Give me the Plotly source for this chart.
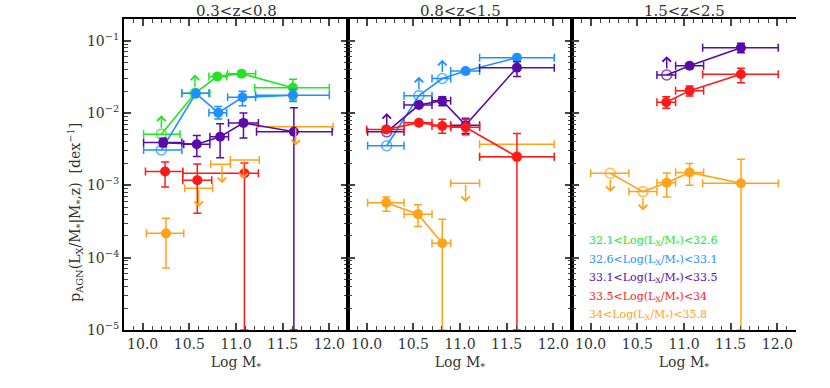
import numpy as np
import plotly.graph_objects as go

# bins in specific accretion rate: legend text and colours
bin_labels = ["32.1&lt;Log(L<sub>X</sub>/M<sub>*</sub>)&lt;32.6",
              "32.6&lt;Log(L<sub>X</sub>/M<sub>*</sub>)&lt;33.1",
              "33.1&lt;Log(L<sub>X</sub>/M<sub>*</sub>)&lt;33.5",
              "33.5&lt;Log(L<sub>X</sub>/M<sub>*</sub>)&lt;34",
              "34&lt;Log(L<sub>X</sub>/M<sub>*</sub>)&lt;35.8"]
bin_colors = ["#22e622", "#1e90ff", "#5a0aa8", "#ff1a1a", "#ffa31a"]
z_titles = ["0.3&lt;z&lt;0.8", "0.8&lt;z&lt;1.5", "1.5&lt;z&lt;2.5"]

# kind: d = detection, o = open (no arrow), L = lower limit, U = upper limit (open),
#       u = upper limit without symbol, b = x-bar only
# ---- 0.3<z<0.8 ----
z1_green_x = [10.20, 10.56, 10.80, 11.06, 11.61]
z1_green_y = [5.1e-3, 1.87e-2, 3.21e-2, 3.50e-2, 2.24e-2]
z1_green_lo = [None, None, 2.9e-2, 3.2e-2, 1.51e-2]
z1_green_hi = [None, None, 3.5e-2, 3.8e-2, 2.92e-2]
z1_green_xlo = [10.01, 10.42, 10.71, 10.91, 11.20]
z1_green_xhi = [10.40, 10.72, 10.90, 11.21, 12.00]
z1_green_kind = "LLddd"

z1_blue_x = [10.20, 10.57, 10.81, 11.07, 11.61]
z1_blue_y = [3.08e-3, 1.87e-2, 1.01e-2, 1.65e-2, 1.76e-2]
z1_blue_lo = [None, 1.7e-2, 8.3e-3, 1.26e-2, 1.44e-2]
z1_blue_hi = [None, 2.05e-2, 1.23e-2, 2.0e-2, 2.13e-2]
z1_blue_xlo = [10.01, 10.42, 10.71, 10.91, 11.21]
z1_blue_xhi = [10.42, 10.71, 10.90, 11.21, 12.00]
z1_blue_kind = "odddd"

z1_purple_x = [10.22, 10.58, 10.83, 11.08, 11.62]
z1_purple_y = [3.9e-3, 3.7e-3, 4.7e-3, 7.3e-3, 5.5e-3]
z1_purple_lo = [3.42e-3, 2.5e-3, 2.4e-3, 4.5e-3, 1e-5]
z1_purple_hi = [4.47e-3, 4.9e-3, 7.1e-3, 1.0e-2, 1.18e-2]
z1_purple_xlo = [10.01, 10.44, 10.72, 10.92, 11.22]
z1_purple_xhi = [10.42, 10.72, 10.92, 11.24, 12.03]
z1_purple_kind = "ddddd"

z1_red_x = [10.24, 10.585, 11.09]
z1_red_y = [1.55e-3, 1.18e-3, 1.47e-3]
z1_red_lo = [9.5e-4, 4.1e-4, 1e-5]
z1_red_hi = [2.1e-3, 1.97e-3, 2.04e-3]
z1_red_xlo = [10.03, 10.43, 10.43]
z1_red_xhi = [10.43, 10.74, 11.24]
z1_red_kind = "ddd"

z1_orange_x = [10.25, 10.60, 10.85, 11.08, 11.64]
z1_orange_y = [2.17e-4, 9.1e-4, 1.95e-3, 2.24e-3, 6.45e-3]
z1_orange_lo = [7.2e-5, None, None, None, None]
z1_orange_hi = [3.5e-4, None, None, None, None]
z1_orange_xlo = [10.04, 10.45, 10.73, 10.94, 11.22]
z1_orange_xhi = [10.44, 10.75, 10.94, 11.25, 12.04]
z1_orange_kind = "duuuu"

# ---- 0.8<z<1.5 ----
z2_blue_x = [10.215, 10.56, 10.81, 11.06, 11.61]
z2_blue_y = [3.53e-3, 1.74e-2, 3.0e-2, 3.81e-2, 5.82e-2]
z2_blue_lo = [None, None, None, 3.5e-2, 5.4e-2]
z2_blue_hi = [None, None, None, 4.1e-2, 6.3e-2]
z2_blue_xlo = [10.01, 10.40, 10.70, 10.90, 11.21]
z2_blue_xhi = [10.40, 10.70, 10.90, 11.21, 12.01]
z2_blue_kind = "oLLdd"

z2_purple_x = [10.215, 10.56, 10.81, 11.06, 11.61]
z2_purple_y = [5.5e-3, 1.29e-2, 1.48e-2, 6.8e-3, 4.24e-2]
z2_purple_lo = [None, 1.2e-2, 1.26e-2, 5.2e-3, 3.2e-2]
z2_purple_hi = [None, 1.4e-2, 1.68e-2, 8.5e-3, 5.1e-2]
z2_purple_xlo = [10.01, 10.40, 10.70, 10.90, 11.21]
z2_purple_xhi = [10.40, 10.70, 10.90, 11.21, 12.01]
z2_purple_kind = "Ldddd"

z2_red_x = [10.21, 10.56, 10.81, 11.06, 11.61]
z2_red_y = [5.94e-3, 7.35e-3, 6.6e-3, 6.34e-3, 2.49e-3]
z2_red_lo = [5.5e-3, 6.8e-3, 5.25e-3, 5.0e-3, 1e-5]
z2_red_hi = [6.4e-3, 7.9e-3, 8.2e-3, 8.2e-3, 5.2e-3]
z2_red_xlo = [10.00, 10.40, 10.70, 10.90, 11.21]
z2_red_xhi = [10.40, 10.70, 10.90, 11.21, 12.01]
z2_red_kind = "ddddd"

z2_orange_x = [10.21, 10.55, 10.81, 11.06, 11.61, 11.61]
z2_orange_y = [5.75e-4, 4.0e-4, 1.58e-4, 1.07e-3, 2.49e-3, 3.7e-3]
z2_orange_lo = [4.4e-4, 2.7e-4, 1e-5, None, None, None]
z2_orange_hi = [6.9e-4, 5.4e-4, 3.4e-4, None, None, None]
z2_orange_xlo = [10.01, 10.40, 10.70, 10.90, 11.21, 11.21]
z2_orange_xhi = [10.40, 10.70, 10.90, 11.21, 12.01, 12.01]
z2_orange_kind = "ddduob"

# ---- 1.5<z<2.5 ----
z3_purple_x = [10.815, 11.06, 11.61]
z3_purple_y = [3.36e-2, 4.5e-2, 8.0e-2]
z3_purple_lo = [None, 4.2e-2, 6.8e-2]
z3_purple_hi = [None, 4.8e-2, 9.2e-2]
z3_purple_xlo = [10.71, 10.91, 11.20]
z3_purple_xhi = [10.91, 11.21, 12.01]
z3_purple_kind = "Ldd"

z3_red_x = [10.81, 11.06, 11.61]
z3_red_y = [1.41e-2, 2.04e-2, 3.43e-2]
z3_red_lo = [1.16e-2, 1.72e-2, 2.63e-2]
z3_red_hi = [1.68e-2, 2.36e-2, 4.17e-2]
z3_red_xlo = [10.71, 10.91, 11.20]
z3_red_xhi = [10.91, 11.21, 12.01]
z3_red_kind = "ddd"

z3_orange_x = [10.21, 10.56, 10.815, 11.06, 11.61]
z3_orange_y = [1.47e-3, 8.2e-4, 1.09e-3, 1.51e-3, 1.07e-3]
z3_orange_lo = [None, None, 6.9e-4, 1.0e-3, 1e-5]
z3_orange_hi = [None, None, 1.48e-3, 2.0e-3, 2.3e-3]
z3_orange_xlo = [10.00, 10.41, 10.71, 10.91, 11.20]
z3_orange_xhi = [10.41, 10.71, 10.91, 11.21, 12.01]
z3_orange_kind = "UUddd"

FONT = "DejaVu Serif"
TXT = "#333"
ARROW_DEX = 0.26

fig = go.Figure()


def add_series(panel, color, x, y, lo, hi, xlo, xhi, kind, join):
    xr, yr = ("x", "y") if panel == 1 else ("x%d" % panel, "y%d" % panel)
    x = np.array(x); y = np.array(y)
    # connecting line
    if join > 1:
        fig.add_trace(go.Scatter(x=x[:join], y=y[:join], mode="lines", xaxis=xr, yaxis=yr,
                                 line=dict(color=color, width=1.6), showlegend=False, hoverinfo="skip"))
    det = [i for i, k in enumerate(kind) if k == "d"]
    lim = [i for i, k in enumerate(kind) if k != "d"]
    ex = dict(type="data", symmetric=False, color=color, thickness=1.5, width=4)
    if det:
        fig.add_trace(go.Scatter(
            x=x[det], y=y[det], mode="markers", xaxis=xr, yaxis=yr, showlegend=False,
            marker=dict(symbol="circle", size=10, color=color),
            error_x=dict(ex, array=[xhi[i] - x[i] for i in det], arrayminus=[x[i] - xlo[i] for i in det]),
            error_y=dict(ex, array=[hi[i] - y[i] for i in det], arrayminus=[y[i] - lo[i] for i in det])))
    if lim:
        fig.add_trace(go.Scatter(
            x=x[lim], y=y[lim], mode="markers", xaxis=xr, yaxis=yr, showlegend=False,
            marker=dict(symbol="circle-open", size=[0 if kind[i] in "ub" else 10 for i in lim],
                        color=color, line=dict(width=1.6, color=color)),
            error_x=dict(ex, array=[xhi[i] - x[i] for i in lim], arrayminus=[x[i] - xlo[i] for i in lim])))
    for i, k in enumerate(kind):
        if k not in "LUu":
            continue
        sgn = 1 if k == "L" else -1
        ly = np.log10(y[i])
        fig.add_annotation(x=x[i], y=ly + sgn * ARROW_DEX, ax=x[i], ay=ly,
                           xref=xr, yref=yr, axref=xr, ayref=yr, text="", showarrow=True,
                           arrowhead=4, arrowsize=1.1, arrowwidth=1.5, arrowcolor=color,
                           standoff=0, startstandoff=0 if k == "u" else 5)


green, blue, purple, red, orange = bin_colors
# draw order: orange first, red last
add_series(1, orange, z1_orange_x, z1_orange_y, z1_orange_lo, z1_orange_hi, z1_orange_xlo, z1_orange_xhi, z1_orange_kind, 0)
add_series(1, green, z1_green_x, z1_green_y, z1_green_lo, z1_green_hi, z1_green_xlo, z1_green_xhi, z1_green_kind, 5)
add_series(1, blue, z1_blue_x, z1_blue_y, z1_blue_lo, z1_blue_hi, z1_blue_xlo, z1_blue_xhi, z1_blue_kind, 5)
add_series(1, purple, z1_purple_x, z1_purple_y, z1_purple_lo, z1_purple_hi, z1_purple_xlo, z1_purple_xhi, z1_purple_kind, 5)
add_series(1, red, z1_red_x, z1_red_y, z1_red_lo, z1_red_hi, z1_red_xlo, z1_red_xhi, z1_red_kind, 0)

add_series(2, orange, z2_orange_x, z2_orange_y, z2_orange_lo, z2_orange_hi, z2_orange_xlo, z2_orange_xhi, z2_orange_kind, 3)
add_series(2, blue, z2_blue_x, z2_blue_y, z2_blue_lo, z2_blue_hi, z2_blue_xlo, z2_blue_xhi, z2_blue_kind, 5)
add_series(2, purple, z2_purple_x, z2_purple_y, z2_purple_lo, z2_purple_hi, z2_purple_xlo, z2_purple_xhi, z2_purple_kind, 5)
add_series(2, red, z2_red_x, z2_red_y, z2_red_lo, z2_red_hi, z2_red_xlo, z2_red_xhi, z2_red_kind, 5)

add_series(3, orange, z3_orange_x, z3_orange_y, z3_orange_lo, z3_orange_hi, z3_orange_xlo, z3_orange_xhi, z3_orange_kind, 5)
add_series(3, purple, z3_purple_x, z3_purple_y, z3_purple_lo, z3_purple_hi, z3_purple_xlo, z3_purple_xhi, z3_purple_kind, 3)
add_series(3, red, z3_red_x, z3_red_y, z3_red_lo, z3_red_hi, z3_red_xlo, z3_red_xhi, z3_red_kind, 3)

# axes
ytickvals = [1e-5, 1e-4, 1e-3, 1e-2, 1e-1]
yticktext = ["10<sup>\u22125</sup>", "10<sup>\u22124</sup>", "10<sup>\u22123</sup>",
             "10<sup>\u22122</sup>", "10<sup>\u22121</sup>"]
yminor = [m * 10.0 ** e for e in range(-5, 0) for m in range(2, 10)]

tickfont = dict(family=FONT, size=14, color=TXT)
for i in range(3):
    sfx = "" if i == 0 else str(i + 1)
    fig.layout["xaxis" + sfx] = dict(
        domain=[i / 3, (i + 1) / 3], anchor="y" + sfx, range=[9.8, 12.2],
        tick0=10, dtick=0.5, tickformat=".1f", ticks="inside", ticklen=7, tickwidth=1.5,
        minor=dict(ticks="inside", ticklen=4, tickwidth=1.2, dtick=0.1, tick0=10),
        showline=True, linewidth=2, linecolor="black", mirror="allticks",
        showgrid=False, zeroline=False, tickfont=tickfont,
        title=dict(text="Log M<sub>*</sub>", font=dict(family=FONT, size=14, color=TXT), standoff=6))
    fig.layout["yaxis" + sfx] = dict(
        domain=[0, 1], anchor="x" + sfx, type="log", range=[-5, -0.7],
        tickmode="array", tickvals=ytickvals, ticktext=yticktext, showticklabels=(i == 0),
        ticks="inside", ticklen=7, tickwidth=1.5,
        minor=dict(ticks="inside", ticklen=4, tickwidth=1.2, tickvals=yminor),
        showline=True, linewidth=2, linecolor="black", mirror=("allticks" if i < 2 else False),
        showgrid=False, zeroline=False, tickfont=tickfont)

# faint right frame of the last panel
fig.layout["yaxis4"] = dict(
    overlaying="y3", anchor="x3", side="right", type="log", range=[-5, -0.7],
    tickmode="array", tickvals=ytickvals, showticklabels=False,
    ticks="inside", ticklen=7, tickwidth=1, tickcolor="#777",
    minor=dict(ticks="inside", ticklen=4, tickwidth=1, tickvals=yminor, tickcolor="#777"),
    showline=True, linewidth=1, linecolor="#666", showgrid=False, zeroline=False)

# panel titles
for i, t in enumerate(z_titles):
    fig.add_annotation(x=(i + 0.5) / 3, y=1.027, xref="paper", yref="paper", text=t,
                       showarrow=False, font=dict(family=FONT, size=15, color=TXT),
                       xanchor="center", yanchor="middle")

# y title
fig.add_annotation(x=-0.073, y=0.38, xref="paper", yref="paper", textangle=-90,
                   text="p<sub>AGN</sub>(L<sub>X</sub>/M<sub>*</sub>|M<sub>*</sub>,z)  [dex<sup>\u22121</sup>]",
                   showarrow=False, font=dict(family=FONT, size=14, color=TXT),
                   xanchor="center", yanchor="middle")

# bin labels in the last panel
label_y = [0.286, 0.225, 0.166, 0.105, 0.048]
for lab, col, yy in zip(bin_labels, bin_colors, label_y):
    fig.add_annotation(x=0.067, y=yy, xref="x3 domain", yref="paper", text=lab,
                       showarrow=False, font=dict(family=FONT, size=11, color=col),
                       xanchor="left", yanchor="middle")

fig.update_layout(width=830, height=388, margin=dict(l=124, r=34, t=19, b=58),
                  plot_bgcolor="white", paper_bgcolor="white", showlegend=False)

# page body margin off so the figure sits at the window corner
fig.write_html("out.html", config={"displayModeBar": False},
               post_script="document.body.style.margin='0';")
